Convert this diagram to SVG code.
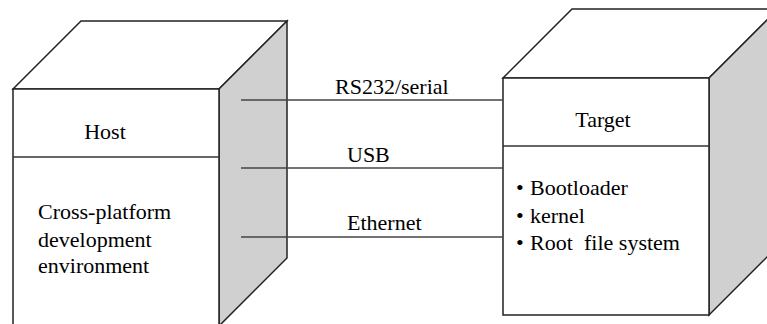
<svg xmlns="http://www.w3.org/2000/svg" width="767" height="324" viewBox="0 0 767 324">
<style>
.face{fill:#ffffff;stroke:#222;stroke-width:1.5;stroke-linejoin:miter}
.side{fill:#d0d0d0;stroke:#222;stroke-width:1.5}
.div{stroke:#333;stroke-width:1.5}
.conn{stroke:#444;stroke-width:1.5;fill:none}
</style>
<rect width="767" height="324" fill="#ffffff"/>
<g id="host">
<polygon class="face" points="13,89 81,21 287,21 219,89"/>
<polygon class="side" points="219,89 287,21 287,258 219,326"/>
<rect class="face" x="13" y="89" width="206" height="240"/>
<line class="div" x1="13" y1="157" x2="219" y2="157"/>
<text x="105" y="139" text-anchor="middle" font-family="Liberation Serif" font-size="22" style="font-family:'Liberation Serif',serif">Host</text>
<text x="38" y="219" font-family="Liberation Serif" font-size="22" style="font-family:'Liberation Serif',serif">Cross-platform</text>
<text x="38" y="247" font-family="Liberation Serif" font-size="22" style="font-family:'Liberation Serif',serif">development</text>
<text x="38" y="273" font-family="Liberation Serif" font-size="22" style="font-family:'Liberation Serif',serif">environment</text>
</g>
<g id="target">
<polygon class="face" points="503,78 572,9 778,9 709,78"/>
<polygon class="side" points="709,78 778,9 778,246 709,315"/>
<rect class="face" x="503" y="78" width="206" height="237"/>
<line class="div" x1="503" y1="146" x2="709" y2="146"/>
<text x="603" y="127" text-anchor="middle" font-family="Liberation Serif" font-size="22" style="font-family:'Liberation Serif',serif">Target</text>
<text y="195" font-family="Liberation Serif" font-size="22" style="font-family:'Liberation Serif',serif"><tspan x="516">•</tspan><tspan x="530">Bootloader</tspan></text>
<text y="223" font-family="Liberation Serif" font-size="22" style="font-family:'Liberation Serif',serif"><tspan x="516">•</tspan><tspan x="530">kernel</tspan></text>
<text y="250" font-family="Liberation Serif" font-size="22" style="font-family:'Liberation Serif',serif"><tspan x="516">•</tspan><tspan x="530">Root</tspan><tspan x="584">file system</tspan></text>
</g>
<g id="connectors">
<line class="conn" x1="241" y1="100" x2="503" y2="100"/>
<line class="conn" x1="241" y1="168" x2="503" y2="168"/>
<line class="conn" x1="241" y1="237" x2="503" y2="237"/>
<text x="335" y="94" font-family="Liberation Serif" font-size="22" style="font-family:'Liberation Serif',serif">RS232/serial</text>
<text x="347" y="162" font-family="Liberation Serif" font-size="22" style="font-family:'Liberation Serif',serif">USB</text>
<text x="347" y="230" font-family="Liberation Serif" font-size="22" style="font-family:'Liberation Serif',serif">Ethernet</text>
</g>
</svg>
